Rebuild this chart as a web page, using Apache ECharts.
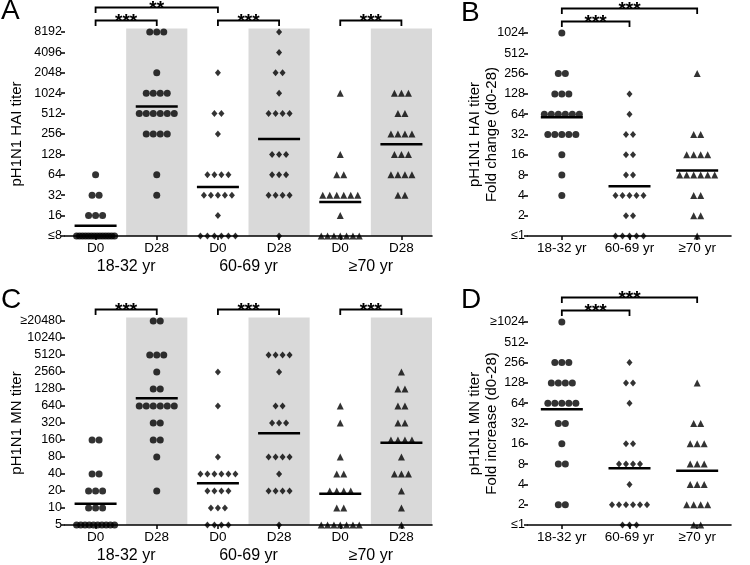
<!DOCTYPE html>
<html><head><meta charset="utf-8">
<script src="https://cdn.jsdelivr.net/npm/echarts@6/dist/echarts.min.js"></script>
<style>html,body{margin:0;padding:0;background:#fff}#c{width:750px;height:565px}</style>
</head><body><div id="c"></div>
<script>
const FONT = "'Liberation Sans', Arial, Helvetica, sans-serif";

// ---------- categories & tick labels ----------
const catsAC = ['D0', 'D28', 'D0', 'D28', 'D0', 'D28'];
const groupsAC = ['18-32 yr', '60-69 yr', '≥70 yr'];
const catsBD = ['18-32 yr', '60-69 yr', '≥70 yr'];
const ticksA = ['≤8', '16', '32', '64', '128', '256', '512', '1024', '2048', '4096', '8192'];
const ticksB = ['≤1', '2', '4', '8', '16', '32', '64', '128', '256', '512', '1024'];
const ticksC = ['5', '10', '20', '40', '80', '160', '320', '640', '1280', '2560', '5120', '10240', '≥20480'];
const ticksD = ['≤1', '2', '4', '8', '16', '32', '64', '128', '256', '512', '≥1024'];

// ---------- Panel A: pH1N1 HAI titer ----------
const a1832_d0 = [64, 32, 32, 16, 16, 16, 8, 8, 8, 8, 8, 8, 8, 8, 8, 8, 8, 8, 8, 8];
const a1832_d28 = [8192, 8192, 8192, 2048, 1024, 1024, 1024, 1024, 512, 512, 512, 512, 512, 512, 256, 256, 256, 256, 64, 32];
const a6069_d0 = [2048, 512, 512, 256, 64, 64, 64, 64, 32, 32, 32, 32, 32, 16, 8, 8, 8, 8, 8, 8];
const a6069_d28 = [8192, 4096, 2048, 2048, 1024, 512, 512, 512, 512, 128, 128, 128, 64, 64, 64, 32, 32, 32, 32, 8];
const a70_d0 = [1024, 128, 64, 64, 32, 32, 32, 32, 32, 32, 16, 8, 8, 8, 8, 8, 8, 8];
const a70_d28 = [1024, 1024, 1024, 512, 512, 256, 256, 256, 256, 128, 128, 128, 64, 64, 64, 64, 32, 32];

// ---------- Panel B: HAI fold change ----------
const b1832 = [1024, 256, 256, 128, 128, 128, 64, 64, 64, 64, 64, 64, 32, 32, 32, 32, 32, 16, 8, 4];
const b6069 = [128, 64, 32, 32, 16, 16, 8, 8, 4, 4, 4, 4, 4, 2, 2, 1, 1, 1, 1, 1];
const b70 = [256, 32, 32, 16, 16, 16, 16, 8, 8, 8, 8, 8, 8, 4, 4, 2, 2, 1];

// ---------- Panel C: pH1N1 MN titer ----------
const c1832_d0 = [160, 160, 40, 40, 20, 20, 20, 10, 10, 10, 5, 5, 5, 5, 5, 5, 5, 5, 5, 5];
const c1832_d28 = [20480, 20480, 5120, 5120, 5120, 2560, 1280, 1280, 640, 640, 640, 640, 640, 640, 320, 320, 160, 160, 80, 20];
const c6069_d0 = [2560, 640, 80, 40, 40, 40, 40, 40, 40, 20, 20, 20, 20, 10, 10, 10, 5, 5, 5, 5];
const c6069_d28 = [5120, 5120, 5120, 5120, 2560, 640, 640, 320, 320, 320, 80, 80, 80, 80, 40, 20, 20, 20, 20, 5];
const c70_d0 = [640, 320, 80, 40, 40, 20, 20, 20, 20, 10, 10, 5, 5, 5, 5, 5, 5, 5];
const c70_d28 = [2560, 1280, 1280, 640, 640, 320, 320, 160, 160, 160, 160, 80, 40, 40, 40, 20, 10, 5];

// ---------- Panel D: MN fold increase ----------
const d1832 = [1024, 256, 256, 256, 128, 128, 128, 128, 64, 64, 64, 64, 64, 32, 32, 16, 8, 8, 2, 2];
const d6069 = [256, 128, 128, 64, 16, 16, 8, 8, 8, 8, 4, 2, 2, 2, 2, 2, 2, 1, 1, 1];
const d70 = [128, 32, 32, 16, 16, 16, 8, 8, 8, 4, 4, 4, 2, 2, 2, 2, 1, 1];

// ---------- significance brackets: [fromCat, toCat, level, text] ----------
const bracketsA = [[0, 1, 0, '***'], [0, 2, 1, '**'], [2, 3, 0, '***'], [4, 5, 0, '***']];
const bracketsB = [[0, 1, 0, '***'], [0, 2, 1, '***']];
const bracketsC = [[0, 1, 0, '***'], [2, 3, 0, '***'], [4, 5, 0, '***']];
const bracketsD = [[0, 1, 0, '***'], [0, 2, 1, '***']];
const shadedCats = [1, 3, 5];

// ---------- helpers ----------
function points(values, cat, base) {
  const counts = {}; values.forEach(v => counts[v] = (counts[v] || 0) + 1);
  const seen = {};
  return values.map(v => {
    const n = counts[v];
    seen[v] = seen[v] === undefined ? 0 : seen[v] + 1;
    const k = seen[v];
    const sp = n > 1 ? Math.min(7, 38 / (n - 1)) : 0;
    return { value: [cat, Math.log2(v / base)], symbolOffset: [(k - (n - 1) / 2) * sp, 0] };
  });
}
function gmean(values, base) {
  return values.reduce((s, v) => s + Math.log2(v / base), 0) / values.length;
}
const SYMS = [
  { symbol: 'circle', symbolSize: 7 },
  { symbol: 'diamond', symbolSize: [6, 7] },
  { symbol: 'triangle', symbolSize: 7 }
];
function scatter(xi, yi, g, data) {
  return { type: 'scatter', xAxisIndex: xi, yAxisIndex: yi, clip: false, silent: true, z: 4,
    symbol: SYMS[g].symbol, symbolSize: SYMS[g].symbolSize, itemStyle: { color: '#000' }, data };
}
function meanSeries(xi, yi, means) {
  return { type: 'custom', xAxisIndex: xi, yAxisIndex: yi, clip: false, silent: true, z: 5,
    data: means.map(m => [m[0], m[1]]),
    renderItem: (params, api) => {
      const p = api.coord([api.value(0), api.value(1)]);
      return { type: 'line', shape: { x1: p[0] - 21, y1: p[1], x2: p[0] + 21, y2: p[1] },
        style: { stroke: '#000', lineWidth: 2.5 } };
    } };
}
function bracketSeries(xi, yi, brackets, yMax) {
  return { type: 'custom', xAxisIndex: xi, yAxisIndex: yi, clip: false, silent: true, z: 5,
    data: brackets.map(b => [b[0], b[1]]),
    renderItem: (params, api) => {
      const b = brackets[params.dataIndex];
      const p1 = api.coord([b[0], yMax]), p2 = api.coord([b[1], yMax]);
      const yl = p1[1] - (b[2] ? 24.5 : 11.5);
      return { type: 'group', children: [
        { type: 'polyline', shape: { points: [[p1[0], yl + 5.5], [p1[0], yl], [p2[0], yl], [p2[0], yl + 5.5]] },
          style: { stroke: '#000', lineWidth: 1.8, fill: null } },
        { type: 'text', style: { text: b[3], x: (p1[0] + p2[0]) / 2, y: yl + 1.5, align: 'center', verticalAlign: 'middle',
          font: 'bold 19px ' + FONT, fill: '#000' } }
      ] };
    } };
}
function bandSeries(xi, yi, cats, yMax) {
  return { type: 'custom', xAxisIndex: xi, yAxisIndex: yi, clip: false, silent: true, z: -1,
    data: cats.map(c => [c, yMax]),
    renderItem: (params, api) => {
      const top = api.coord([api.value(0), yMax]);
      const bot = api.coord([api.value(0), 0]);
      const w = api.size([1, 0])[0];
      return { type: 'rect', shape: { x: top[0] - w / 2, y: top[1] - 3.5, width: w, height: bot[1] - top[1] + 3.5 },
        style: { fill: '#d9d9d9' } };
    } };
}
function xCat(gi, data, margin, size, line) {
  return { type: 'category', gridIndex: gi, data, boundaryGap: true, position: 'bottom',
    axisLine: { show: line, onZero: false, lineStyle: { color: '#000', width: 1.6 } },
    axisTick: { show: line, alignWithLabel: true, length: 4, lineStyle: { color: '#000', width: 1.5 } },
    axisLabel: { margin, fontSize: size, color: '#000', fontFamily: FONT, interval: 0 },
    splitLine: { show: false } };
}
function yVal(gi, max, ticks, name, gap) {
  return { type: 'value', gridIndex: gi, min: 0, max, interval: 1,
    name, nameLocation: 'middle', nameGap: gap, nameRotate: 90, nameMoveOverlap: false,
    nameTextStyle: { fontSize: 15, color: '#000', fontFamily: FONT, lineHeight: 17 },
    axisLine: { show: false },
    axisTick: { show: true, length: 4, lineStyle: { color: '#000', width: 1.5 } },
    axisLabel: { margin: 3, fontSize: 12.5, color: '#000', fontFamily: FONT, formatter: v => ticks[Math.round(v)] },
    splitLine: { show: false } };
}

const option = {
  animation: false,
  backgroundColor: '#fff',
  title: [
    { text: 'A', left: 1, top: -3 }, { text: 'B', left: 461, top: -1 },
    { text: 'C', left: 1, top: 286 }, { text: 'D', left: 461, top: 286 }
  ].map(t => Object.assign(t, { padding: 0, textStyle: { fontSize: 28, fontWeight: 'normal', color: '#000', fontFamily: FONT } })),
  grid: [
    { left: 65, top: 32, width: 367, height: 204 },
    { left: 528, top: 33, width: 203, height: 203 },
    { left: 65, top: 321, width: 367, height: 204 },
    { left: 528, top: 322, width: 203, height: 203 }
  ],
  xAxis: [
    xCat(0, catsAC, 5, 13.5, true), xCat(0, groupsAC, 23, 16, false),
    xCat(1, catsBD, 5, 13.5, true),
    xCat(2, catsAC, 5, 13.5, true), xCat(2, groupsAC, 23, 16, false),
    xCat(3, catsBD, 5, 13.5, true)
  ],
  yAxis: [
    yVal(0, 10, ticksA, 'pH1N1 HAI titer', 40),
    yVal(1, 10, ticksB, 'pH1N1 HAI titer\nFold change (d0-28)', 28),
    yVal(2, 12, ticksC, 'pH1N1 MN titer', 40),
    yVal(3, 10, ticksD, 'pH1N1 MN titer\nFold increase (d0-28)', 28)
  ],
  series: [
    bandSeries(0, 0, shadedCats, 10),
    scatter(0, 0, 0, points(a1832_d0, 0, 8).concat(points(a1832_d28, 1, 8))),
    scatter(0, 0, 1, points(a6069_d0, 2, 8).concat(points(a6069_d28, 3, 8))),
    scatter(0, 0, 2, points(a70_d0, 4, 8).concat(points(a70_d28, 5, 8))),
    meanSeries(0, 0, [a1832_d0, a1832_d28, a6069_d0, a6069_d28, a70_d0, a70_d28].map((a, i) => [i, gmean(a, 8)])),
    bracketSeries(0, 0, bracketsA, 10),

    scatter(2, 1, 0, points(b1832, 0, 1)),
    scatter(2, 1, 1, points(b6069, 1, 1)),
    scatter(2, 1, 2, points(b70, 2, 1)),
    meanSeries(2, 1, [b1832, b6069, b70].map((a, i) => [i, gmean(a, 1)])),
    bracketSeries(2, 1, bracketsB, 10),

    bandSeries(3, 2, shadedCats, 12),
    scatter(3, 2, 0, points(c1832_d0, 0, 5).concat(points(c1832_d28, 1, 5))),
    scatter(3, 2, 1, points(c6069_d0, 2, 5).concat(points(c6069_d28, 3, 5))),
    scatter(3, 2, 2, points(c70_d0, 4, 5).concat(points(c70_d28, 5, 5))),
    meanSeries(3, 2, [c1832_d0, c1832_d28, c6069_d0, c6069_d28, c70_d0, c70_d28].map((a, i) => [i, gmean(a, 5)])),
    bracketSeries(3, 2, bracketsC, 12),

    scatter(5, 3, 0, points(d1832, 0, 1)),
    scatter(5, 3, 1, points(d6069, 1, 1)),
    scatter(5, 3, 2, points(d70, 2, 1)),
    meanSeries(5, 3, [d1832, d6069, d70].map((a, i) => [i, gmean(a, 1)])),
    bracketSeries(5, 3, bracketsD, 10)
  ]
};
const chart = echarts.init(document.getElementById('c'), null, { renderer: 'canvas' });
chart.setOption(option);
</script></body></html>
